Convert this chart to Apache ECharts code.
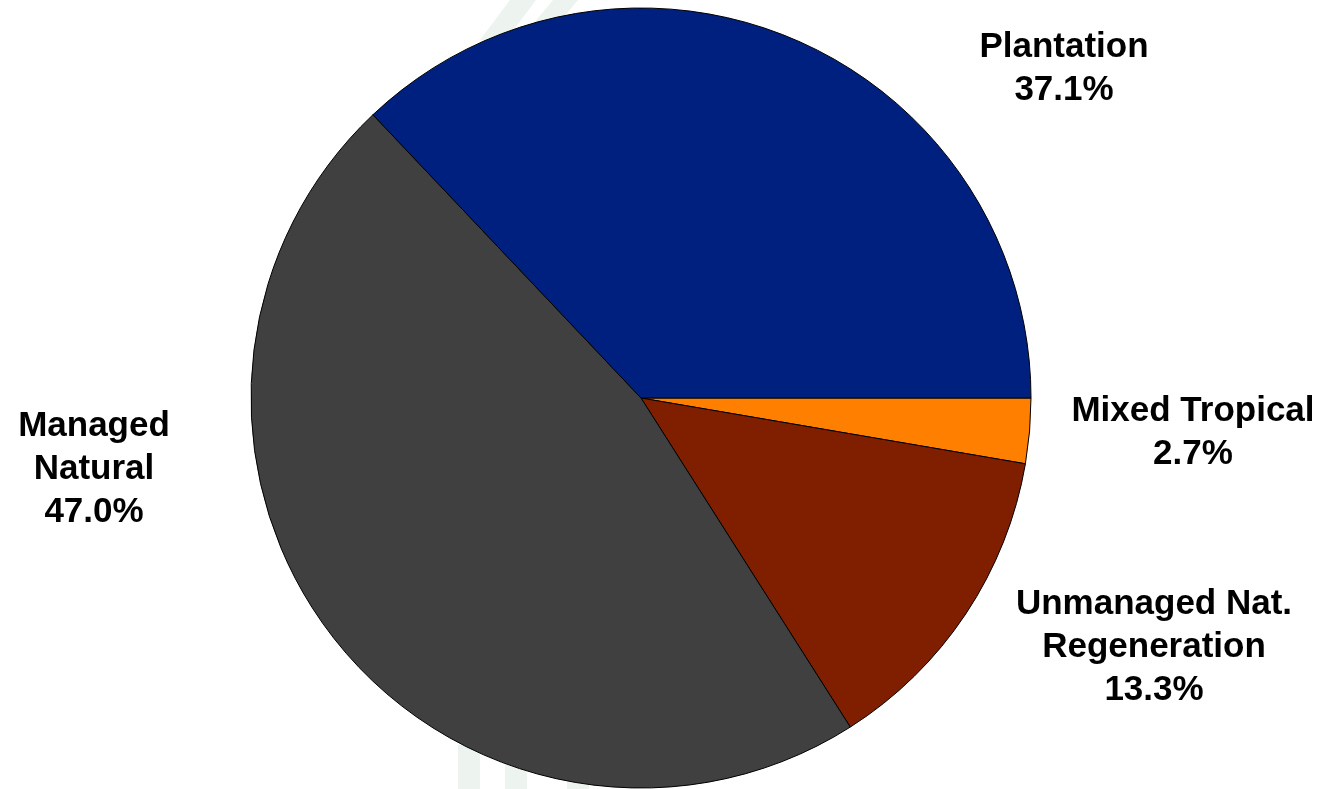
<!DOCTYPE html>
<html>
<head>
<meta charset="utf-8">
<script src="https://cdn.jsdelivr.net/npm/echarts@6/dist/echarts.min.js"></script>
<style>
html,body{margin:0;padding:0;background:#fff;}
#chart{width:1332px;height:789px;}
</style>
</head>
<body>
<div id="chart"></div>
<script>
var categories = ["Mixed Tropical", "Unmanaged Nat.\nRegeneration", "Managed\nNatural", "Plantation"];
var shares = [2.7, 13.3, 47.0, 37.1];
var colors = ["#FF8000", "#7F1F00", "#404040", "#00207F"];

var chart = echarts.init(document.getElementById('chart'), null, {renderer: 'canvas'});

var labelSpots = [
  {x: 1193, y: 433},
  {x: 1154, y: 647},
  {x: 94, y: 469},
  {x: 1064, y: 69}
];

var wm = '#edf3ef';
var option = {
  backgroundColor: '#ffffff',
  animation: false,
  graphic: [
    {type: 'polygon', z: -10, shape: {points: [[480, 40], [510, 0], [536, 0], [506, 40]]}, style: {fill: wm}},
    {type: 'polygon', z: -10, shape: {points: [[528, 30], [553, 0], [578, 0], [553, 30]]}, style: {fill: wm}},
    {type: 'rect', z: -10, shape: {x: 458, y: 745, width: 22, height: 44}, style: {fill: wm}},
    {type: 'rect', z: -10, shape: {x: 505, y: 760, width: 22, height: 29}, style: {fill: wm}},
    {type: 'rect', z: -10, shape: {x: 567, y: 770, width: 22, height: 19}, style: {fill: wm}}
  ],
  series: [{
    type: 'pie',
    center: [641, 398],
    radius: [0, 390],
    startAngle: 0,
    clockwise: true,
    avoidLabelOverlap: false,
    data: categories.map(function (c, i) {
      return {name: c, value: shares[i], itemStyle: {color: colors[i]}};
    }),
    itemStyle: {borderColor: '#000000', borderWidth: 1},
    label: {
      show: true,
      position: 'outside',
      formatter: function (p) { return p.name + '\n' + p.value.toFixed(1) + '%'; },
      fontFamily: 'Liberation Sans, Arial, sans-serif',
      fontWeight: 'bold',
      fontSize: 35,
      lineHeight: 43,
      color: '#000000',
      align: 'center'
    },
    labelLine: {show: false},
    labelLayout: function (params) {
      var s = labelSpots[params.dataIndex];
      return {x: s.x, y: s.y, align: 'center', verticalAlign: 'middle'};
    },
    emphasis: {disabled: true}
  }]
};
chart.setOption(option);
</script>
</body>
</html>
